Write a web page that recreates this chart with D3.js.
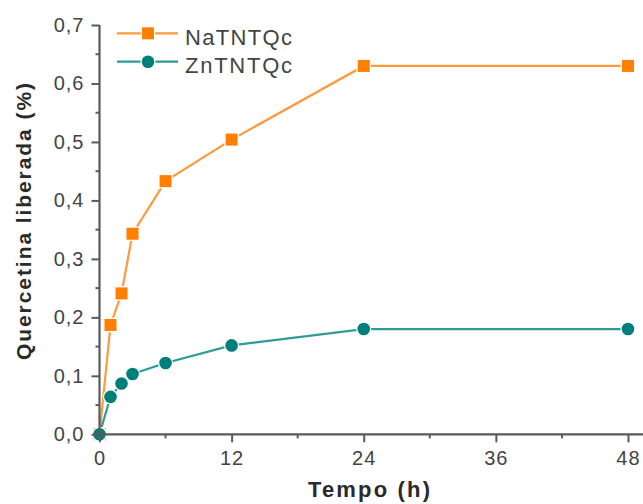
<!DOCTYPE html>
<html>
<head>
<meta charset="utf-8">
<script src="https://cdn.jsdelivr.net/npm/d3@7"></script>
<style>
  html, body { margin: 0; padding: 0; background: #fff; }
  svg { display: block; font-family: "Liberation Sans", Arial, sans-serif; }
</style>
</head>
<body>
<svg id="chart" width="643" height="504"></svg>
<script>
// Release time points (h)
const hours = [0, 1, 2, 3, 6, 12, 24, 48];
// Released quercetin (%) per sample
const naTNTQc = [0, 0.187, 0.241, 0.343, 0.433, 0.504, 0.630, 0.630];
const znTNTQc = [0, 0.064, 0.087, 0.103, 0.122, 0.152, 0.180, 0.180];
const seriesNames = ["NaTNTQc", "ZnTNTQc"];
const xTicks = [0, 12, 24, 36, 48];
const xMinorTicks = [6, 18, 30, 42];
const yTicks = [0, 0.1, 0.2, 0.3, 0.4, 0.5, 0.6, 0.7];
const yMinorTicks = [0.05, 0.15, 0.25, 0.35, 0.45, 0.55, 0.65];

const svg = d3.select("#chart");
const W = 643, H = 504;

const x = d3.scaleLinear().domain([0, 49.5]).range([99.5, 644.5]);
const y = d3.scaleLinear().domain([0, 0.7]).range([434.3, 25]);

const fmt = v => d3.format(".1f")(v).replace(".", ",");

const series = [
  { name: seriesNames[0], values: naTNTQc, line: "#ff9a3c", fill: "#ff8000", shape: "square" },
  { name: seriesNames[1], values: znTNTQc, line: "#2e9b96", fill: "#007f7a", shape: "circle" }
];

const line = d3.line().x((d, i) => x(hours[i])).y(d => y(d));

function marker(g, s, cx, cy) {
  if (s.shape === "square") {
    g.append("rect").attr("x", cx - 6).attr("y", cy - 6).attr("width", 12).attr("height", 12)
      .attr("fill", s.fill).attr("stroke", "#fff").attr("stroke-width", 2.5).attr("paint-order", "stroke");
  } else {
    g.append("circle").attr("cx", cx).attr("cy", cy).attr("r", 6.3)
      .attr("fill", s.fill).attr("stroke", "#fff").attr("stroke-width", 2.5).attr("paint-order", "stroke");
  }
}

// Data lines and markers
series.forEach(s => {
  const g = svg.append("g");
  g.append("path").datum(s.values).attr("d", line)
    .attr("fill", "none").attr("stroke", s.line).attr("stroke-width", 2.2);
  s.values.forEach((v, i) => marker(g, s, x(hours[i]), y(v)));
});

// Axes
const axisColor = "#5a5a5a";
const xAxis = d3.axisBottom(x).tickValues(xTicks).tickSize(8).tickPadding(9).tickFormat(d3.format("d"));
const yAxis = d3.axisLeft(y).tickValues(yTicks).tickSize(8).tickPadding(7).tickFormat(fmt);

const gx = svg.append("g").attr("transform", `translate(0,${y(0)})`).call(xAxis);
gx.append("g").selectAll("line").data(xMinorTicks).join("line")
  .attr("x1", d => x(d)).attr("x2", d => x(d)).attr("y1", 0).attr("y2", 4);

const gy = svg.append("g").attr("transform", `translate(${x(0)},0)`).call(yAxis);
gy.append("g").selectAll("line").data(yMinorTicks).join("line")
  .attr("y1", d => y(d)).attr("y2", d => y(d)).attr("x1", 0).attr("x2", -4);

[gx, gy].forEach(g => {
  g.select(".domain").attr("stroke", axisColor).attr("stroke-width", 2.2);
  g.selectAll("line").attr("stroke", axisColor).attr("stroke-width", 2);
  g.selectAll("text").attr("fill", "#444").attr("font-size", 20)
    .attr("letter-spacing", 1).attr("font-family", "Liberation Sans, Arial, sans-serif");
});
gx.select(".domain").attr("d", `M${x(0) - 1},0H${W + 2}`);
gy.select(".domain").attr("d", `M0,${y(0) + 1}V${y(0.7)}`);

// Axis titles
svg.append("text").attr("x", 369).attr("y", 497).attr("text-anchor", "middle")
  .attr("font-size", 22).attr("font-weight", "bold")
  .attr("textLength", 122).attr("lengthAdjust", "spacing")
  .attr("fill", "#2a2a2a").text("Tempo (h)");
svg.append("text").attr("transform", "translate(31,221.5) rotate(-90)").attr("text-anchor", "middle")
  .attr("font-size", 21).attr("font-weight", "bold")
  .attr("textLength", 277).attr("lengthAdjust", "spacing")
  .attr("fill", "#2a2a2a").text("Quercetina liberada (%)");

// Legend
const legend = svg.append("g");
series.forEach((s, i) => {
  const ly = 33.3 + i * 28.4;
  legend.append("line").attr("x1", 117).attr("x2", 178).attr("y1", ly).attr("y2", ly)
    .attr("stroke", s.line).attr("stroke-width", 2.2);
  marker(legend, s, 148, ly);
  legend.append("text").attr("x", 185).attr("y", ly + 11.5).attr("font-size", 22)
    .attr("textLength", 107).attr("lengthAdjust", "spacing")
    .attr("fill", "#444").text(s.name);
});
</script>
</body>
</html>
